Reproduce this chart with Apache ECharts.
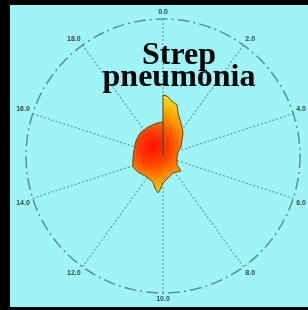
<!DOCTYPE html>
<html><head><meta charset="utf-8">
<script src="https://cdn.jsdelivr.net/npm/echarts@6/dist/echarts.min.js"></script>
<style>
html,body{margin:0;padding:0;background:#000;}
#frame{position:absolute;left:0;top:0;width:298px;height:302px;border-left:10px solid #000;border-top:5px solid #000;border-bottom:3px solid #000;background:#9ff4f7;}
#chart{width:298px;height:302px;}
</style></head><body>
<div id="frame"><div id="chart"></div></div>
<script>
const titleText = 'Strep\npneumonia';
const angleMin = 0, angleMax = 20, angleStep = 2;
const radiusMax = 100;
// shape outline: angle (0-20 scale, clockwise from top) and radius (% of outer circle)
const shapeAngles = [0, 0, 0.1, 0.21, 0.33, 0.45, 0.86, 1.07, 1.41, 1.84, 2.28, 2.77, 3.52, 4.17, 5.44, 6.82, 7.21, 8.31, 9.28, 10.0, 10.28, 10.43, 10.78, 11.17, 12.06, 13.19, 13.89, 14.89, 15.65, 16.61, 17.5, 18.48, 19.43, 20, 20];
const shapeRadii  = [0, 44.5, 44.6, 43.9, 42.6, 40.8, 38.6, 33.2, 29.1, 25.3, 22.3, 18.1, 14.7, 11.3, 10.3, 12.1, 17.1, 14.4, 16.5, 19.7, 24.9, 27.2, 24.1, 20.4, 19.3, 21.7, 23.4, 21.9, 21.6, 22.6, 23.7, 23.8, 24.5, 24.8, 0];

const chart = echarts.init(document.getElementById('chart'));
chart.setOption({
  backgroundColor: 'transparent',
  animation: false,
  title: {
    text: titleText,
    left: 164, top: 35, textAlign: 'center',
    textStyle: {fontFamily: 'Liberation Serif', fontWeight: 'bold', fontSize: 32, lineHeight: 22, color: '#000'}
  },
  polar: {center: [153, 151], radius: 137},
  angleAxis: {
    type: 'value', min: angleMin, max: angleMax, interval: angleStep,
    startAngle: 90, clockwise: true,
    axisLine: {show: true, lineStyle: {color: '#5c8f96', width: 1.5, type: [12, 4, 2, 4]}},
    axisTick: {show: false},
    axisLabel: {show: true, margin: 3, fontSize: 7, fontWeight: 'bold', fontFamily: 'Liberation Sans', color: '#34474c',
      formatter: v => v >= angleMax ? '' : v.toFixed(1)},
    splitLine: {show: true, lineStyle: {color: '#6a9ca3', width: 1.2, type: [2, 2]}}
  },
  radiusAxis: {
    type: 'value', min: 0, max: radiusMax,
    axisLine: {show: false}, axisTick: {show: false}, axisLabel: {show: false}, splitLine: {show: false}
  },
  series: [{
    type: 'line', coordinateSystem: 'polar', symbol: 'none', smooth: false,
    data: shapeAngles.map((a, i) => [shapeRadii[i], a]),
    lineStyle: {color: '#5e4e10', width: 1},
    areaStyle: {opacity: 1, color: new echarts.graphic.RadialGradient(0.4, 0.53, 1.0, [
      {offset: 0, color: '#ff1000'},
      {offset: 0.35, color: '#ff4400'},
      {offset: 0.65, color: '#ff9500'},
      {offset: 1, color: '#ffd81a'}
    ])}
  }]
});
</script>
</body></html>
